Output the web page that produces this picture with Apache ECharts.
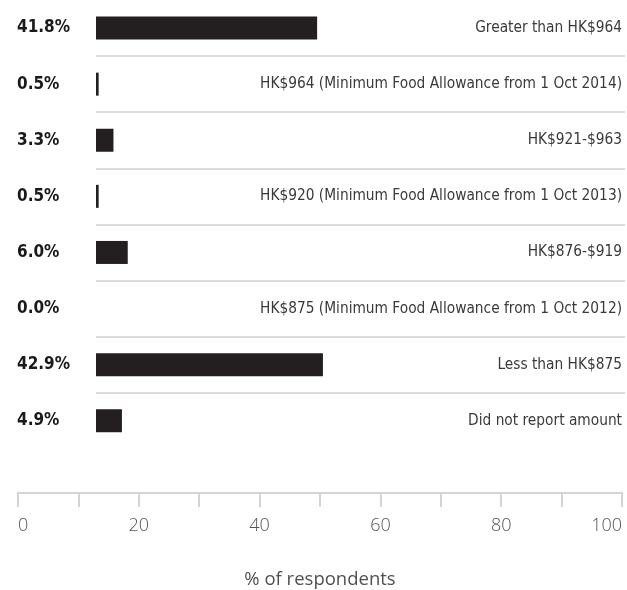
<!DOCTYPE html>
<html>
<head>
<meta charset="UTF-8">
<title>Food allowance</title>
<style>
  html, body { margin: 0; padding: 0; background: #fff; }
  #main { width: 627px; height: 590px; }
</style>
</head>
<body>
<div id="main"></div>
<script src="https://cdn.jsdelivr.net/npm/echarts@6/dist/echarts.min.js"></script>
<script>
// data
var categories = [
  'Greater than HK$964',
  'HK$964 (Minimum Food Allowance from 1 Oct 2014)',
  'HK$921-$963',
  'HK$920 (Minimum Food Allowance from 1 Oct 2013)',
  'HK$876-$919',
  'HK$875 (Minimum Food Allowance from 1 Oct 2012)',
  'Less than HK$875',
  'Did not report amount'
];
var values = [41.8, 0.5, 3.3, 0.5, 6.0, 0.0, 42.9, 4.9];
var axisTickLabels = [0, 20, 40, 60, 80, 100];

var condensed = "'DejaVu Sans Condensed', 'Liberation Sans Narrow', sans-serif";
// separators only between rows, not above the first / below the last
var sepColors = ['rgba(0,0,0,0)'];
for (var i = 1; i < categories.length; i++) sepColors.push('#dcdcdc');
sepColors.push('rgba(0,0,0,0)');

var chart = echarts.init(document.getElementById('main'));
var option = {
  backgroundColor: '#fff',
  animation: false,
  grid: [
    { left: 96, right: 2, top: -4.9, bottom: 141.2 },
    { left: 18, right: 5, top: 400, bottom: 96 }
  ],
  xAxis: [{
    gridIndex: 0,
    type: 'value',
    min: 0,
    max: 100,
    show: false
  }, {
    gridIndex: 1,
    type: 'value',
    min: 0,
    max: 100,
    interval: 10,
    name: '% of respondents',
    nameLocation: 'middle',
    nameGap: 77,
    nameTextStyle: { color: '#505050', fontSize: 18.5, fontFamily: 'Open Sans' },
    axisLine: { show: true, lineStyle: { color: '#d4d4d4', width: 2 } },
    axisTick: { show: true, length: 14, lineStyle: { color: '#d4d4d4', width: 2 } },
    splitLine: { show: false },
    axisLabel: {
      margin: 24,
      color: '#555',
      fontSize: 18,
      fontFamily: 'Open Sans',
      fontWeight: 300,
      alignMinLabel: 'left',
      alignMaxLabel: 'right',
      formatter: function (v) {
        return axisTickLabels.indexOf(v) >= 0 ? String(v) : '';
      }
    }
  }],
  yAxis: [{
    gridIndex: 0,
    type: 'category',
    inverse: true,
    data: categories,
    axisLine: { show: false },
    axisTick: { show: false },
    splitLine: { show: true, lineStyle: { color: sepColors, width: 2 } },
    axisLabel: {
      align: 'left',
      margin: 79,
      color: '#1a1a1a',
      fontSize: 17,
      fontWeight: 'bold',
      fontFamily: condensed,
      formatter: function (v, idx) {
        return values[idx].toFixed(1) + '%';
      }
    }
  }, {
    gridIndex: 0,
    type: 'category',
    inverse: true,
    position: 'right',
    data: categories,
    axisLine: { show: false },
    axisTick: { show: false },
    splitLine: { show: false },
    axisLabel: {
      inside: true,
      margin: 3,
      color: '#3a3a3a',
      fontSize: 15.3,
      fontFamily: condensed
    }
  }, {
    gridIndex: 1,
    type: 'value',
    show: false
  }],
  series: [{
    type: 'bar',
    xAxisIndex: 0,
    yAxisIndex: 0,
    barWidth: 23,
    itemStyle: { color: '#231f20' },
    data: values
  }]
};
chart.setOption(option);
</script>
</body>
</html>
